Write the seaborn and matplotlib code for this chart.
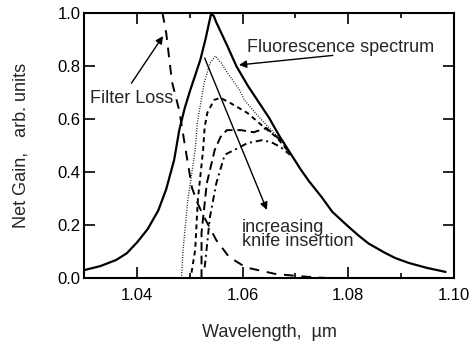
import matplotlib
matplotlib.use('Agg')
import matplotlib.pyplot as plt
import seaborn as sns
import pandas as pd
from matplotlib.ticker import MultipleLocator

# Fluorescence spectrum (solid)
fluor_wl = [1.030, 1.033, 1.036, 1.038, 1.040, 1.042, 1.044, 1.0455, 1.047, 1.048,
            1.049, 1.050, 1.051, 1.052, 1.053, 1.0536, 1.054, 1.0545, 1.055, 1.057,
            1.0588, 1.061, 1.063, 1.065, 1.067, 1.0694, 1.071, 1.0726, 1.075, 1.077,
            1.080, 1.082, 1.0839, 1.087, 1.089, 1.0915, 1.095, 1.0985]
fluor_gain = [0.030, 0.045, 0.068, 0.093, 0.135, 0.185, 0.255, 0.335, 0.445, 0.560,
              0.640, 0.705, 0.765, 0.825, 0.905, 0.960, 0.995, 0.990, 0.965, 0.880,
              0.800, 0.725, 0.665, 0.605, 0.535, 0.460, 0.410, 0.365, 0.305, 0.250,
              0.195, 0.160, 0.130, 0.095, 0.075, 0.057, 0.038, 0.023]

# Filter loss (dashed)
filter_wl = [1.0448, 1.0455, 1.0466, 1.048, 1.0493, 1.0504, 1.0515, 1.0527, 1.055,
             1.0574, 1.0606, 1.0663, 1.072, 1.076]
filter_gain = [1.00, 0.925, 0.74, 0.63, 0.47, 0.34, 0.28, 0.23, 0.143,
               0.08, 0.04, 0.015, 0.005, 0.0]

# net gain for increasing knife insertion
knife1_wl = [1.0484, 1.0487, 1.0496, 1.051, 1.0514, 1.0527, 1.0538, 1.0548, 1.056,
             1.0571, 1.0594, 1.0603, 1.0636, 1.066, 1.068]
knife1_gain = [0.0, 0.106, 0.294, 0.483, 0.585, 0.736, 0.81, 0.838, 0.81,
               0.774, 0.71, 0.672, 0.596, 0.547, 0.51]

knife2_wl = [1.0503, 1.051, 1.0515, 1.0525, 1.0528, 1.0533, 1.0546, 1.0558, 1.0577,
             1.0609, 1.064, 1.0665, 1.069]
knife2_gain = [0.02, 0.106, 0.294, 0.483, 0.57, 0.623, 0.672, 0.68, 0.66,
               0.623, 0.57, 0.53, 0.47]

knife3_wl = [1.0522, 1.0522, 1.0532, 1.0547, 1.0558, 1.057, 1.0597, 1.0621, 1.0645,
             1.0672, 1.069]
knife3_gain = [0.0, 0.17, 0.357, 0.483, 0.532, 0.558, 0.558, 0.55, 0.566,
               0.52, 0.47]

knife4_wl = [1.0528, 1.0538, 1.055, 1.0566, 1.0584, 1.0609, 1.0636, 1.0654,
             1.0672, 1.069]
knife4_gain = [0.04, 0.23, 0.357, 0.465, 0.483, 0.509, 0.52, 0.513,
               0.494, 0.465]

sns.set_style('ticks')
plt.rcParams['font.family'] = ['Liberation Sans', 'DejaVu Sans']

fig = plt.figure(figsize=(4.73, 3.48), dpi=100)
ax = fig.add_axes([0.1786, 0.2011, 0.7802, 0.7615])

curves = [
    (fluor_wl, fluor_gain, '-', 1.6),
    (filter_wl, filter_gain, (0, (5, 4)), 1.4),
    (knife1_wl, knife1_gain, (0, (0.6, 1.2)), 1.0),
    (knife2_wl, knife2_gain, (0, (2.5, 2)), 1.4),
    (knife3_wl, knife3_gain, (0, (4.5, 2.5)), 1.4),
    (knife4_wl, knife4_gain, (0, (3.5, 2, 1, 2)), 1.4),
]
for wl, g, ls, lw in curves:
    df = pd.DataFrame({'wl': wl, 'gain': g})
    sns.lineplot(data=df, x='wl', y='gain', ax=ax, color='black', lw=lw,
                 linestyle=ls, estimator=None, sort=False)

ax.set_xlim(1.03, 1.10)
ax.set_ylim(0.0, 1.0)
ax.xaxis.set_minor_locator(MultipleLocator(0.01))
ax.set_xticks([1.04, 1.06, 1.08, 1.10])
ax.set_xticklabels(['1.04', '1.06', '1.08', '1.10'])
ax.set_yticks([0.0, 0.2, 0.4, 0.6, 0.8, 1.0])
ax.set_yticklabels(['0.0', '0.2', '0.4', '0.6', '0.8', '1.0'])
ax.tick_params(which='both', direction='in', top=True, right=True, width=1.2,
               labelsize=12, color='black', labelcolor='black')
ax.tick_params(axis='x', which='major', length=8, pad=7)
ax.tick_params(axis='y', which='major', length=8, pad=3)
ax.tick_params(which='minor', length=3.5)
for sp in ax.spines.values():
    sp.set_linewidth(1.5)
    sp.set_color('black')

ax.set_xlabel('Wavelength,  \u00b5m', fontsize=13, labelpad=15)
ax.set_ylabel('Net Gain,   arb. units', fontsize=13, labelpad=20)

arrow = dict(arrowstyle='-|>', color='black', lw=1.0, mutation_scale=11,
             shrinkA=0, shrinkB=0)
ax.text(1.0608, 0.853, 'Fluorescence spectrum', fontsize=13, va='baseline')
ax.annotate('', xy=(1.0593, 0.804), xytext=(1.0771, 0.84), arrowprops=arrow)
ax.text(1.031, 0.66, 'Filter Loss', fontsize=13, va='baseline')
ax.annotate('', xy=(1.0449, 0.913), xytext=(1.0389, 0.735), arrowprops=arrow)
ax.text(1.0599, 0.121, 'increasing\nknife insertion', fontsize=13,
        va='baseline', linespacing=0.75)
ax.annotate('', xy=(1.0646, 0.257), xytext=(1.0528, 0.83), arrowprops=arrow)

fig.savefig('out.png', dpi=100)
